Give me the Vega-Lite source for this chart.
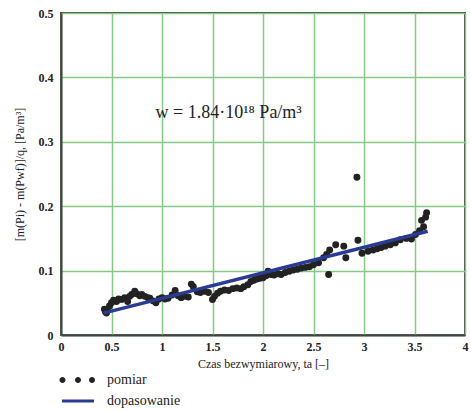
{
  "$schema": "https://vega.github.io/schema/vega-lite/v6.json",
  "autosize": "none",
  "width": 404,
  "height": 322,
  "padding": {"left": 61, "top": 13, "right": 6, "bottom": 76},
  "background": "white",
  "config": {
    "view": {"stroke": "#444444", "strokeWidth": 2},
    "axis": {
      "gridColor": "#86c986",
      "gridWidth": 1.5,
      "gridOpacity": 1,
      "domainColor": "#444444",
      "domainWidth": 2,
      "ticks": false,
      "labelFont": "Liberation Serif",
      "labelFontWeight": "bold",
      "labelFontSize": 12,
      "labelColor": "#222222",
      "titleFont": "Liberation Serif",
      "titleFontWeight": "normal",
      "titleFontSize": 12,
      "titleColor": "#222222"
    },
    "legend": {
      "labelFont": "Liberation Serif",
      "labelFontSize": 14,
      "labelColor": "#222222"
    }
  },
  "datasets": {
    "pomiar": [
      {"ta": 0.43, "v": 0.040}, {"ta": 0.44, "v": 0.036}, {"ta": 0.45, "v": 0.034}, {"ta": 0.46, "v": 0.038},
      {"ta": 0.48, "v": 0.045}, {"ta": 0.50, "v": 0.050}, {"ta": 0.52, "v": 0.054}, {"ta": 0.55, "v": 0.052},
      {"ta": 0.57, "v": 0.056}, {"ta": 0.60, "v": 0.055}, {"ta": 0.63, "v": 0.058}, {"ta": 0.66, "v": 0.052},
      {"ta": 0.68, "v": 0.060}, {"ta": 0.70, "v": 0.063}, {"ta": 0.73, "v": 0.068}, {"ta": 0.75, "v": 0.064},
      {"ta": 0.78, "v": 0.061}, {"ta": 0.80, "v": 0.063}, {"ta": 0.83, "v": 0.060}, {"ta": 0.86, "v": 0.058},
      {"ta": 0.88, "v": 0.057}, {"ta": 0.91, "v": 0.053}, {"ta": 0.94, "v": 0.050}, {"ta": 0.97, "v": 0.056},
      {"ta": 1.00, "v": 0.058}, {"ta": 1.03, "v": 0.056}, {"ta": 1.06, "v": 0.057}, {"ta": 1.10, "v": 0.062},
      {"ta": 1.13, "v": 0.069}, {"ta": 1.16, "v": 0.061}, {"ta": 1.19, "v": 0.058}, {"ta": 1.22, "v": 0.060},
      {"ta": 1.26, "v": 0.059}, {"ta": 1.29, "v": 0.079}, {"ta": 1.31, "v": 0.075}, {"ta": 1.35, "v": 0.067},
      {"ta": 1.38, "v": 0.066}, {"ta": 1.42, "v": 0.068}, {"ta": 1.46, "v": 0.066}, {"ta": 1.50, "v": 0.055},
      {"ta": 1.52, "v": 0.060}, {"ta": 1.55, "v": 0.065}, {"ta": 1.58, "v": 0.068}, {"ta": 1.62, "v": 0.070},
      {"ta": 1.66, "v": 0.069}, {"ta": 1.70, "v": 0.072}, {"ta": 1.74, "v": 0.073}, {"ta": 1.78, "v": 0.072},
      {"ta": 1.81, "v": 0.075}, {"ta": 1.85, "v": 0.078}, {"ta": 1.88, "v": 0.083}, {"ta": 1.91, "v": 0.085},
      {"ta": 1.94, "v": 0.087}, {"ta": 1.97, "v": 0.088}, {"ta": 2.00, "v": 0.089}, {"ta": 2.03, "v": 0.092},
      {"ta": 2.05, "v": 0.099}, {"ta": 2.08, "v": 0.094}, {"ta": 2.11, "v": 0.093}, {"ta": 2.15, "v": 0.095},
      {"ta": 2.18, "v": 0.094}, {"ta": 2.22, "v": 0.097}, {"ta": 2.26, "v": 0.099}, {"ta": 2.30, "v": 0.101},
      {"ta": 2.34, "v": 0.102}, {"ta": 2.38, "v": 0.104}, {"ta": 2.42, "v": 0.105}, {"ta": 2.46, "v": 0.106},
      {"ta": 2.50, "v": 0.109}, {"ta": 2.55, "v": 0.112}, {"ta": 2.60, "v": 0.120}, {"ta": 2.63, "v": 0.125},
      {"ta": 2.65, "v": 0.094}, {"ta": 2.66, "v": 0.132}, {"ta": 2.72, "v": 0.140}, {"ta": 2.80, "v": 0.138},
      {"ta": 2.82, "v": 0.120}, {"ta": 2.93, "v": 0.245}, {"ta": 2.94, "v": 0.147}, {"ta": 2.98, "v": 0.127},
      {"ta": 3.04, "v": 0.130}, {"ta": 3.09, "v": 0.132}, {"ta": 3.13, "v": 0.134}, {"ta": 3.17, "v": 0.136},
      {"ta": 3.21, "v": 0.138}, {"ta": 3.26, "v": 0.140}, {"ta": 3.31, "v": 0.143}, {"ta": 3.36, "v": 0.148},
      {"ta": 3.42, "v": 0.150}, {"ta": 3.47, "v": 0.149}, {"ta": 3.51, "v": 0.156}, {"ta": 3.55, "v": 0.162},
      {"ta": 3.57, "v": 0.178}, {"ta": 3.59, "v": 0.168}, {"ta": 3.61, "v": 0.183}, {"ta": 3.62, "v": 0.190}
    ],
    "fit": [
      {"ta": 0.42, "v": 0.034},
      {"ta": 3.63, "v": 0.161}
    ],
    "note": [
      {"ta": 1.66, "v": 0.345, "label": "w = 1.84·10¹⁸ Pa/m³"}
    ],
    "legend": [
      {"series": "pomiar"},
      {"series": "dopasowanie"}
    ]
  },
  "layer": [
    {
      "data": {"name": "pomiar"},
      "mark": {"type": "point", "filled": true, "shape": "circle", "size": 48, "color": "#222222", "opacity": 1},
      "encoding": {
        "x": {
          "field": "ta", "type": "quantitative",
          "scale": {"domain": [0, 4], "nice": false},
          "axis": {"values": [0, 0.5, 1, 1.5, 2, 2.5, 3, 3.5, 4], "format": "~g", "labelPadding": 6, "labelFlush": false, "title": "Czas bezwymiarowy, ta [–]", "titlePadding": 6}
        },
        "y": {
          "field": "v", "type": "quantitative",
          "scale": {"domain": [0, 0.5], "nice": false},
          "axis": {"values": [0, 0.1, 0.2, 0.3, 0.4, 0.5], "format": "~g", "labelPadding": 8, "labelFlush": false, "title": "[m(Pi) - m(Pwf)]/q, [Pa/m³]", "titlePadding": 12}
        }
      }
    },
    {
      "data": {"name": "fit"},
      "mark": {"type": "line", "color": "#2b3a93", "strokeWidth": 3.5},
      "encoding": {
        "x": {"field": "ta", "type": "quantitative"},
        "y": {"field": "v", "type": "quantitative"}
      }
    },
    {
      "data": {"name": "note"},
      "mark": {"type": "text", "font": "Liberation Serif", "fontSize": 18, "color": "#222222", "align": "center", "baseline": "middle"},
      "encoding": {
        "x": {"field": "ta", "type": "quantitative"},
        "y": {"field": "v", "type": "quantitative"},
        "text": {"field": "label"}
      }
    },
    {
      "data": {"name": "legend"},
      "mark": {"type": "point", "filled": true, "opacity": 0, "size": 100},
      "encoding": {
        "shape": {
          "field": "series", "type": "nominal",
          "scale": {
            "domain": ["pomiar", "dopasowanie"],
            "range": [
              "M-3.7,0 a0.6,0.6 0 1,0 1.2,0 a0.6,0.6 0 1,0 -1.2,0 Z M-0.6,0 a0.6,0.6 0 1,0 1.2,0 a0.6,0.6 0 1,0 -1.2,0 Z M2.2,0 a0.6,0.6 0 1,0 1.2,0 a0.6,0.6 0 1,0 -1.2,0 Z",
              "M-3.2,-0.3 L3.2,-0.3 L3.2,0.3 L-3.2,0.3 Z"
            ]
          },
          "legend": {
            "title": null, "orient": "none", "legendX": 10, "legendY": 360, "padding": 0,
            "symbolSize": 100, "symbolOpacity": 1, "symbolStrokeWidth": 0, "labelOffset": 22, "rowPadding": 7,
            "labelFont": "Liberation Serif", "labelFontSize": 14, "labelColor": "#222222"
          }
        },
        "color": {
          "field": "series", "type": "nominal",
          "scale": {"domain": ["pomiar", "dopasowanie"], "range": ["#222222", "#2b3a93"]},
          "legend": {
            "title": null, "orient": "none", "legendX": 10, "legendY": 360, "padding": 0,
            "symbolSize": 100, "symbolOpacity": 1, "symbolStrokeWidth": 0, "labelOffset": 22, "rowPadding": 7,
            "labelFont": "Liberation Serif", "labelFontSize": 14, "labelColor": "#222222"
          }
        }
      }
    }
  ]
}
